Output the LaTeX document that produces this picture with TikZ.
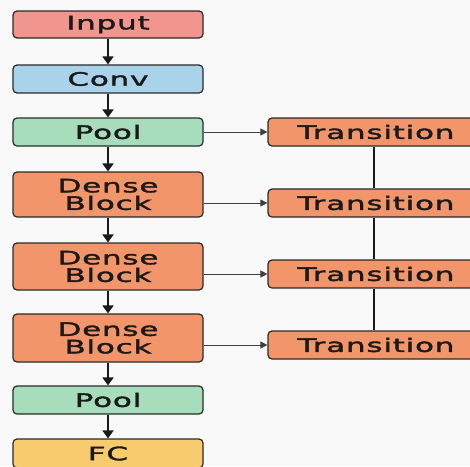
\documentclass[tikz,border=0pt]{standalone}
\usepackage{fontspec}
\newfontfamily\boxfont[FakeStretch=1.68,FakeBold=2,LetterSpace=4]{DejaVu Sans}
\usetikzlibrary{arrows.meta}
\definecolor{bgc}{HTML}{F9F9F9}
\definecolor{inc}{HTML}{F1958F}
\definecolor{cvc}{HTML}{A8D3EA}
\definecolor{plc}{HTML}{A7DDBB}
\definecolor{dnc}{HTML}{F2956B}
\definecolor{fcc}{HTML}{F8CB6E}
\definecolor{edc}{HTML}{2A2A2A}
\definecolor{txc}{HTML}{1A1A1A}
\tikzset{
  blk/.style={draw=edc, line width=1.2pt, rounded corners=4pt, minimum width=190pt,
    inner sep=0pt, align=center, text=txc,
    font=\boxfont\fontsize{18.5}{17.5}\selectfont},
  trn/.style={blk, fill=dnc, minimum width=216pt, minimum height=28pt},
  varr/.style={line width=1.8pt, draw=txc, -{Triangle[length=8pt,width=11pt]}},
  harr/.style={line width=1pt, draw=edc!90, -{Triangle[length=7pt,width=7pt]}},
  vline/.style={line width=1.8pt, draw=txc}
}
\begin{document}
\begin{tikzpicture}[x=1pt,y=-1pt]
\fill[bgc] (0,0) rectangle (470,466);
\useasboundingbox (0,0) rectangle (470,466);
\node[blk, fill=inc, minimum height=27pt] (inp) at (108,24.5) {Input};
\node[blk, fill=cvc, minimum height=28pt] (conv) at (108,79) {Conv};
\node[blk, fill=plc, minimum height=28pt] (pool1) at (108,132) {Pool};
\node[blk, fill=dnc, minimum height=45pt] (d1) at (108,194.5) {Dense\\Block};
\node[blk, fill=dnc, minimum height=47pt] (d2) at (108,266.5) {Dense\\Block};
\node[blk, fill=dnc, minimum height=48pt] (d3) at (108,338) {Dense\\Block};
\node[blk, fill=plc, minimum height=28pt] (pool2) at (108,400) {Pool};
\node[blk, fill=fcc, minimum height=29pt] (fc) at (108,453.5) {FC};
\node[trn] (t1) at (376,132) {Transition};
\node[trn] (t2) at (376,203) {Transition};
\node[trn] (t3) at (376,274) {Transition};
\node[trn] (t4) at (376,345) {Transition};
\draw[varr] (inp) -- (conv);
\draw[varr] (conv) -- (pool1);
\draw[varr] (pool1) -- (d1);
\draw[varr] (d1) -- (d2);
\draw[varr] (d2) -- (d3);
\draw[varr] (d3) -- (pool2);
\draw[varr] (pool2) -- (fc);
\draw[harr] (pool1.east |- t1.west) -- (t1.west);
\draw[harr] (d1.east |- t2.west) -- (t2.west);
\draw[harr] (d2.east |- t3.west) -- (t3.west);
\draw[harr] (d3.east |- t4.west) -- (t4.west);
\path (t1.south) ++(-2,0) coordinate (a1) (t2.north) ++(-2,0) coordinate (a2);
\draw[vline] (a1) -- (a2);
\path (t2.south) ++(-2,0) coordinate (b1) (t3.north) ++(-2,0) coordinate (b2);
\draw[vline] (b1) -- (b2);
\path (t3.south) ++(-2,0) coordinate (c1) (t4.north) ++(-2,0) coordinate (c2);
\draw[vline] (c1) -- (c2);
\end{tikzpicture}
\end{document}
